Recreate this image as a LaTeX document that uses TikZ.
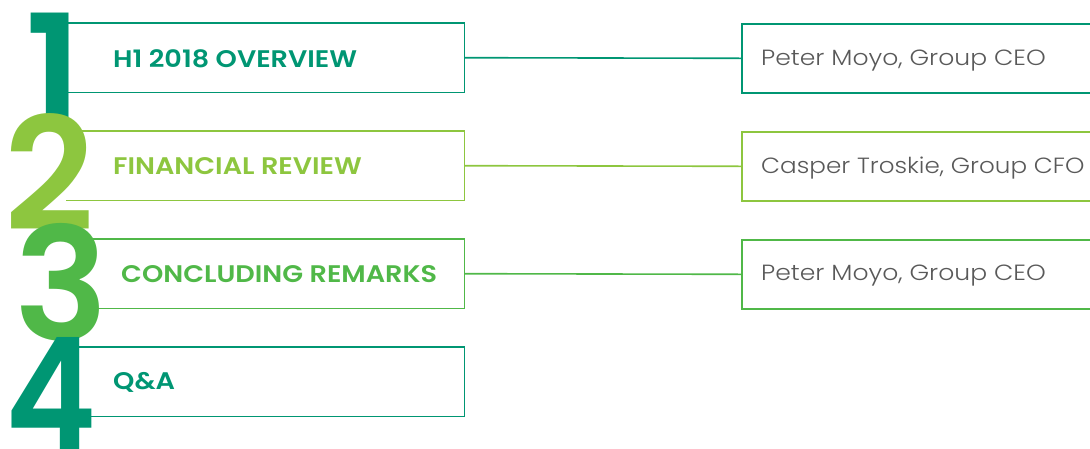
\documentclass[tikz,border=0pt]{standalone}
\usepackage{fontspec}
\setmainfont{Poppins}
\newfontfamily\numfont{Poppins SemiBold}
\newfontfamily\semifont{Poppins SemiBold}
\newfontfamily\lightfont{Poppins Light}
\definecolor{teal}{HTML}{009673}
\definecolor{lgreen}{HTML}{8DC63F}
\definecolor{mgreen}{HTML}{50B848}
\definecolor{txtgray}{HTML}{595959}
\tikzset{
  px/.style={x=1pt,y=-1pt},
  lbox/.style={minimum width=#1,minimum height=69pt,inner sep=0pt,anchor=north west},
  rbox/.style={draw=#1,line width=1.6pt,minimum width=380pt,minimum height=69pt,inner sep=0pt,anchor=north west},
  title/.style={font=\semifont\fontsize{24}{24}\selectfont,text=#1,anchor=west,inner sep=0pt},
  who/.style={font=\lightfont\fontsize{22}{22}\selectfont,text=txtgray,anchor=west,inner sep=0pt},
  bignum/.style={font=\numfont\fontsize{157}{157}\selectfont,text=#1,anchor=base west,inner sep=0pt},
  conn/.style={draw=#1,line width=1.6pt},
  side/.style={draw=#1,line width=1.6pt},
}
\begin{document}
\begin{tikzpicture}[px]
\useasboundingbox (0,0) rectangle (1090,448);
\clip (0,0) rectangle (1090,448);
% left boxes
\node[lbox=398pt] (b1) at (66,23) {};
\node[lbox=398pt] (b2) at (66,131) {};
\node[lbox=384pt] (b3) at (80,239) {};
\node[lbox=394pt] (b4) at (70,347) {};
\draw[side=teal] (b1.north west) -- (b1.north east) -- (b1.south east) -- (b1.south west);
\draw[side=lgreen] (b2.north west) -- (b2.north east) -- (b2.south east) -- (b2.south west);
\draw[side=mgreen] (b3.north west) -- (b3.north east) -- (b3.south east) -- (b3.south west);
\draw[side=teal] (b4.north west) -- (b4.north east) -- (b4.south east) -- (b4.south west);
% right boxes
\node[rbox=teal] (r1) at (741,23) {};
\node[rbox=lgreen] (r2) at (741,131) {};
\node[rbox=mgreen] (r3) at (741,239) {};
% connectors
\draw[conn=teal] (b1.east) -- (r1.west);
\draw[conn=lgreen] (b2.east) -- (r2.west);
\draw[conn=mgreen] (b3.east) -- (r3.west);
% titles
\node[title=teal] (t1) at (113,58.5) {\scalebox{1.13}[1]{H1 2018 OVERVIEW}};
\node[title=lgreen] (t2) at (113,166.5) {\scalebox{1.13}[1]{FINANCIAL REVIEW}};
\node[title=mgreen] (t3) at (121,274) {\scalebox{1.13}[1]{CONCLUDING REMARKS}};
\node[title=teal] (t4) at (113,382.5) {\scalebox{1.13}[1]{Q\&A}};
% names
\node[who] (w1) at (761,60.5) {\scalebox{1.14}[1]{Peter Moyo, Group CEO}};
\node[who] (w2) at (761,168.5) {\scalebox{1.12}[1]{Casper Troskie, Group CFO}};
\node[who] (w3) at (761,276) {\scalebox{1.14}[1]{Peter Moyo, Group CEO}};
% big numbers
\node[bignum=teal] (n1) at (25,127) {1};
\node[bignum=lgreen] (n2) at (4,230) {2};
\node[bignum=mgreen] (n3) at (14,340) {3};
\node[bignum=teal] (n4) at (5,450) {\scalebox{0.88}[1]{4}};
\end{tikzpicture}
\end{document}
